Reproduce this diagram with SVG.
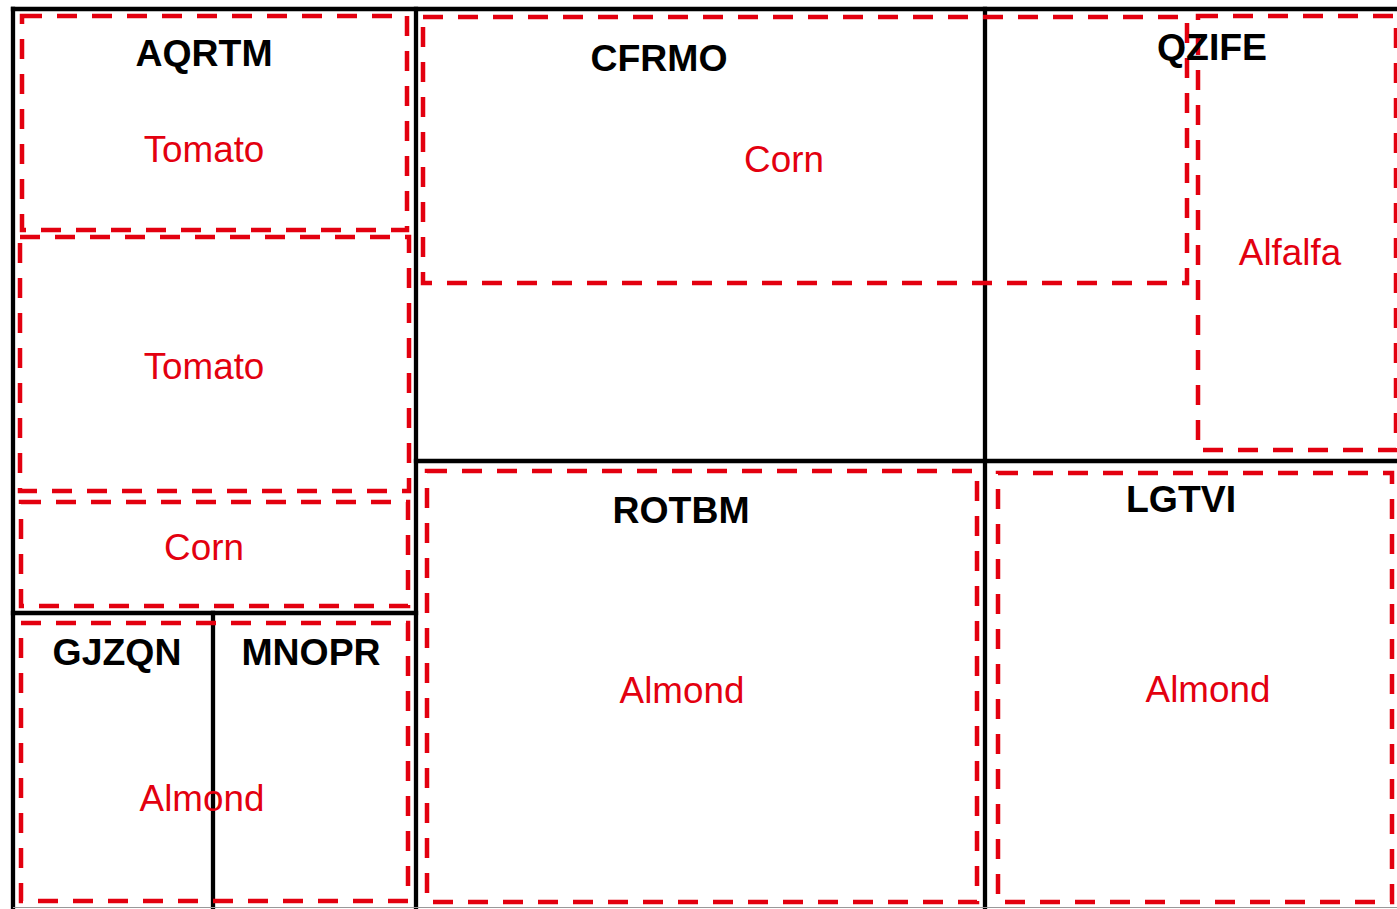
<svg xmlns="http://www.w3.org/2000/svg" width="1397" height="909" viewBox="0 0 1397 909">
  <style>
    .frame { stroke: #000; stroke-width: 4.3; fill: none; stroke-linecap: square; }
    .crop { stroke: #e3000f; stroke-width: 4.5; fill: none; stroke-dasharray: 20 15; }
    .name { font-family: "Liberation Sans", Arial, sans-serif; font-weight: bold; font-size: 37.4px; fill: #000; text-anchor: middle; }
    .crop-label { font-family: "Liberation Sans", Arial, sans-serif; font-size: 36.8px; fill: #e3000f; text-anchor: middle; }
  </style>
  <rect width="1397" height="909" fill="#fff"/>

  <!-- field boundaries -->
  <g id="boundaries">
    <line class="frame" x1="13" y1="9" x2="1397" y2="9"/>
    <line class="frame" x1="13" y1="9" x2="13" y2="909"/>
    <line class="frame" x1="416" y1="9" x2="416" y2="909"/>
    <line class="frame" x1="13" y1="613" x2="416" y2="613"/>
    <line class="frame" x1="213" y1="613" x2="213" y2="909"/>
    <line class="frame" x1="416" y1="461" x2="1397" y2="461"/>
    <line class="frame" x1="985" y1="9" x2="985" y2="909"/>
    <line x1="13" y1="907.5" x2="1397" y2="907.5" stroke="#999" stroke-width="1"/>
  </g>

  <g id="AQRTM">
    <rect class="crop" x="22" y="16" width="385" height="214"/>
    <rect class="crop" x="20" y="237" width="389" height="254"/>
    <rect class="crop" x="21" y="502" width="387" height="104"/>
    <text class="name" x="204" y="66">AQRTM</text>
    <text class="crop-label" x="204" y="162">Tomato</text>
    <text class="crop-label" x="204" y="379">Tomato</text>
    <text class="crop-label" x="204" y="560">Corn</text>
  </g>

  <g id="GJZQN">
    <rect class="crop" x="21" y="623" width="387" height="278"/>
    <text class="name" x="117" y="665">GJZQN</text>
    <text class="crop-label" x="202" y="811">Almond</text>
  </g>

  <g id="MNOPR">
    <text class="name" x="311" y="665">MNOPR</text>
  </g>

  <g id="CFRMO">
    <rect class="crop" x="423" y="17" width="764" height="266"/>
    <text class="name" x="659" y="71">CFRMO</text>
    <text class="crop-label" x="784" y="172">Corn</text>
  </g>

  <g id="QZIFE">
    <rect class="crop" x="1198" y="16" width="198" height="434"/>
    <text class="name" x="1212" y="60">QZIFE</text>
    <text class="crop-label" x="1290" y="265">Alfalfa</text>
  </g>

  <g id="ROTBM">
    <rect class="crop" x="427" y="471" width="550" height="431"/>
    <text class="name" x="681" y="523">ROTBM</text>
    <text class="crop-label" x="682" y="703">Almond</text>
  </g>

  <g id="LGTVI">
    <rect class="crop" x="998" y="473" width="394" height="429"/>
    <text class="name" x="1181" y="512">LGTVI</text>
    <text class="crop-label" x="1208" y="702">Almond</text>
  </g>
</svg>
